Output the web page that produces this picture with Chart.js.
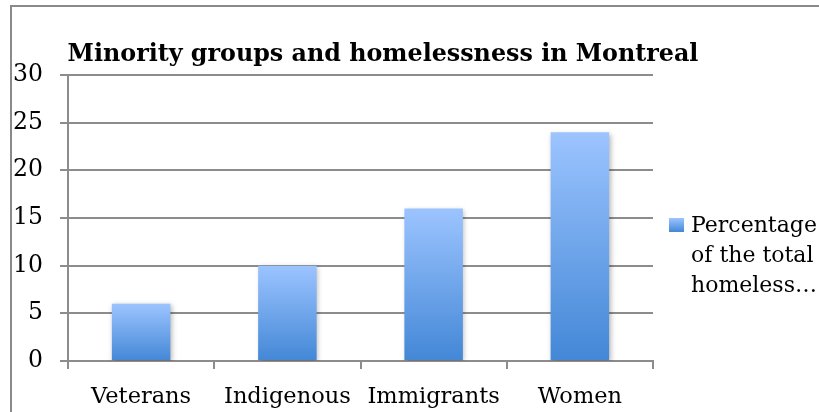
<!DOCTYPE html>
<html>
<head>
<meta charset="utf-8">
<script src="https://cdn.jsdelivr.net/npm/chart.js@4.4.1/dist/chart.umd.min.js"></script>
<style>
  html, body { margin: 0; padding: 0; background: #fff; }
  #wrap { position: relative; width: 819px; height: 412px; }
</style>
</head>
<body>
<div id="wrap"><canvas id="c" width="819" height="412"></canvas></div>
<script>
const categories = ['Veterans', 'Indigenous', 'Immigrants', 'Women'];
const values = [6, 10, 16, 24];
const seriesLabel = 'Percentage of the total homeless population';
const legendLines = ['Percentage', 'of the total', 'homeless…'];
const chartTitle = 'Minority groups and homelessness in Montreal';
const yTicks = [0, 5, 10, 15, 20, 25, 30];

const FONT = "'DejaVu Serif', serif";
const GRID = '#8c8c8c';
const TOP_C = '#9cc4ff';
const BOT_C = '#4387d6';

function barGradient(ctx) {
  const chart = ctx.chart;
  const area = chart.chartArea;
  if (!area || ctx.type !== 'data') return TOP_C;
  const y = chart.scales.y;
  const top = y.getPixelForValue(ctx.raw);
  const bot = y.getPixelForValue(0);
  const g = chart.ctx.createLinearGradient(0, top, 0, bot);
  g.addColorStop(0, TOP_C);
  g.addColorStop(1, BOT_C);
  return g;
}

const framePlugin = {
  id: 'frame',
  beforeDraw(chart) {
    const c = chart.ctx;
    c.save();
    c.strokeStyle = '#8a8a8a';
    c.lineWidth = 2;
    c.strokeRect(11, 6, 900, 500);
    c.restore();
  }
};

const shadowPlugin = {
  id: 'barShadow',
  beforeDatasetsDraw(chart) {
    const c = chart.ctx;
    c.save();
    c.shadowColor = 'rgba(0,0,0,0.28)';
    c.shadowBlur = 5;
    c.shadowOffsetX = 1.5;
    c.shadowOffsetY = 1.5;
  },
  afterDatasetsDraw(chart) {
    chart.ctx.restore();
  }
};

const legendPlugin = {
  id: 'sideLegend',
  afterDraw(chart) {
    const c = chart.ctx;
    c.save();
    const g = c.createLinearGradient(0, 218, 0, 232);
    g.addColorStop(0, TOP_C);
    g.addColorStop(1, BOT_C);
    c.fillStyle = g;
    c.fillRect(669, 218, 15, 14);
    c.fillStyle = '#000';
    c.font = "22px " + FONT;
    c.textBaseline = 'alphabetic';
    c.textAlign = 'left';
    legendLines.forEach((t, i) => c.fillText(t, 691, 232 + i * 30));
    c.restore();
  }
};

new Chart(document.getElementById('c'), {
  type: 'bar',
  data: {
    labels: categories,
    datasets: [{
      label: seriesLabel,
      data: values,
      backgroundColor: barGradient,
      borderWidth: 0,
      barPercentage: 0.4,
      categoryPercentage: 1.0
    }]
  },
  options: {
    responsive: false,
    animation: false,
    devicePixelRatio: 1,
    layout: { padding: { left: 0, right: 53, top: 0, bottom: 3 } },
    plugins: {
      legend: { display: false },
      tooltip: { enabled: false },
      title: {
        display: true,
        text: chartTitle,
        color: '#000',
        font: { family: FONT, size: 23.8, weight: 'bold' },
        padding: { top: 40.5, bottom: 6 }
      }
    },
    scales: {
      x: {
        afterFit(scale) { scale.height = 48; },
        grid: { display: true, offset: true, drawOnChartArea: false, color: GRID, lineWidth: 2, tickLength: 8 },
        border: { display: true, color: GRID, width: 2 },
        ticks: { color: '#000', font: { family: FONT, size: 22.5 }, padding: 15, maxRotation: 0 }
      },
      y: {
        min: 0, max: 30,
        afterBuildTicks(scale) { scale.ticks = yTicks.map(v => ({ value: v })); },
        afterFit(scale) { scale.width = 68; },
        grid: { color: GRID, lineWidth: 2, tickLength: 8 },
        border: { display: true, color: GRID, width: 2 },
        ticks: { color: '#000', font: { family: FONT, size: 23.5 }, padding: 17 }
      },
      y2: {
        position: 'right',
        display: true,
        afterFit(scale) { scale.width = 113; },
        grid: { display: false, drawTicks: false },
        border: { display: false },
        ticks: { display: false }
      }
    }
  },
  plugins: [framePlugin, shadowPlugin, legendPlugin]
});
</script>
</body>
</html>
